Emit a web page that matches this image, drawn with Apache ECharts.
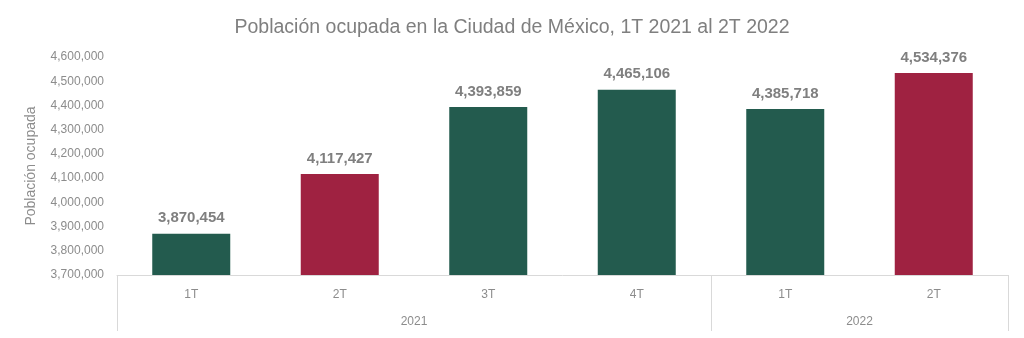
<!DOCTYPE html>
<html><head><meta charset="utf-8">
<script src="https://cdn.jsdelivr.net/npm/echarts@6/dist/echarts.min.js"></script>
<style>html,body{margin:0;padding:0;background:#fff}#c{width:1024px;height:338px}</style>
</head><body><div id="c"></div>
<script>
const categories = ['1T','2T','3T','4T','1T','2T'];
const values = [3870454, 4117427, 4393859, 4465106, 4385718, 4534376];
const barColors = ['#235b4e','#9f2241','#235b4e','#235b4e','#235b4e','#9f2241'];
const years = ['2021','2022'];
const yearCenters = [2, 5];
const yearBounds = [0, 4, 6];

const chart = echarts.init(document.getElementById('c'));
const font = 'Liberation Sans, Arial, sans-serif';
chart.setOption({
  animation: false,
  title: {
    text: 'Población ocupada en la Ciudad de México, 1T 2021 al 2T 2022',
    left: 'center', top: 13,
    textStyle: {fontFamily: font, fontSize: 19.5, fontWeight: 'normal', color: '#7f7f7f'}
  },
  grid: {left: 117, right: 16, top: 57, bottom: 63},
  xAxis: [{
    type: 'category', data: categories,
    axisLine: {show: true, lineStyle: {color: '#d9d9d9'}},
    axisTick: {show: false},
    axisLabel: {color: '#8c8c8c', fontFamily: font, fontSize: 12, margin: 14}
  }, {
    type: 'value', min: 0, max: 6, position: 'bottom',
    axisLine: {show: false},
    splitLine: {show: false},
    axisTick: {show: true, customValues: yearBounds, length: 56, lineStyle: {color: '#d9d9d9'}},
    axisLabel: {customValues: yearCenters, margin: 41, color: '#8c8c8c', fontFamily: font, fontSize: 12,
      formatter: v => years[yearCenters.indexOf(v)]}
  }],
  yAxis: {
    type: 'value', min: 3700000, max: 4600000, interval: 100000,
    name: 'Población ocupada', nameLocation: 'middle', nameGap: 79,
    nameTextStyle: {color: '#8c8c8c', fontFamily: font, fontSize: 14},
    axisLine: {show: false}, axisTick: {show: false}, splitLine: {show: false},
    axisLabel: {color: '#8c8c8c', fontFamily: font, fontSize: 12, margin: 13,
      formatter: v => v.toLocaleString('en-US')}
  },
  series: [{
    type: 'bar', xAxisIndex: 0, barWidth: 78,
    data: values.map((v, i) => ({value: v, itemStyle: {color: barColors[i]}})),
    label: {show: true, position: 'top', distance: 8, color: '#7f7f7f', fontFamily: font,
      fontSize: 15, fontWeight: 'bold', formatter: p => p.value.toLocaleString('en-US')}
  }]
});
</script></body></html>
